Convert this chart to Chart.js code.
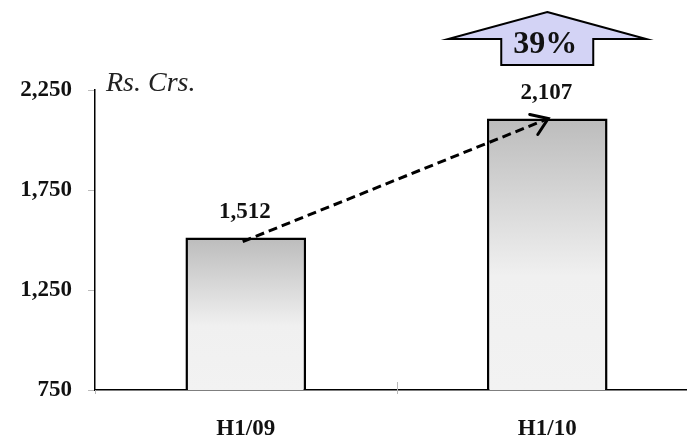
<!DOCTYPE html>
<html>
<head>
<meta charset="utf-8">
<script src="https://cdn.jsdelivr.net/npm/chart.js@4/dist/chart.umd.min.js"></script>
<style>
  html, body { margin: 0; padding: 0; background: #ffffff; overflow: hidden; }
  #wrap { position: relative; width: 698px; height: 441px; }
</style>
</head>
<body>
<div id="wrap"><canvas id="c"></canvas></div>
<script>
// Half-year revenue, Rs. crores
const periods = ['H1/09', 'H1/10'];
const revenue = [1512, 2107];
const yTicks = [750, 1250, 1750, 2250];
const unitLabel = 'Rs. Crs.';

const SERIF = '"Liberation Serif", "Times New Roman", serif';
const fmt = v => v.toLocaleString('en-US');

// vertical grey gradient for each bar, darker at its top
function barFill(ctx) {
  const chart = ctx.chart;
  if (!chart.chartArea) return '#e0e0e0';
  const ys = chart.scales.y;
  const top = ys.getPixelForValue(ctx.raw);
  const bottom = ys.getPixelForValue(ys.min);
  const g = chart.ctx.createLinearGradient(0, top, 0, bottom);
  g.addColorStop(0, '#bcbcbc');
  g.addColorStop(0.58, '#f0f0f0');
  g.addColorStop(1, '#f2f2f2');
  return g;
}

const decorations = {
  id: 'decorations',
  afterDraw(chart) {
    const c = chart.ctx;
    const xs = chart.scales.x, ys = chart.scales.y;
    const area = chart.chartArea;
    c.save();

    // unit caption beside the axis top
    c.font = 'italic 28px ' + SERIF;
    c.fillStyle = '#222';
    c.textAlign = 'left';
    c.textBaseline = 'alphabetic';
    c.fillText(unitLabel, area.left + 11, area.top + 1);

    // category boundary ticks on the x axis
    c.strokeStyle = '#b8b8b8';
    c.lineWidth = 1;
    for (let i = 0; i < periods.length - 1; i++) {
      const bx = Math.round((xs.getPixelForValue(i) + xs.getPixelForValue(i + 1)) / 2) + 0.5;
      c.beginPath();
      c.moveTo(bx, area.bottom - 8);
      c.lineTo(bx, area.bottom + 4);
      c.stroke();
    }
    c.beginPath();
    c.moveTo(area.left + 0.5, area.bottom);
    c.lineTo(area.left + 0.5, area.bottom + 4);
    c.stroke();

    // dashed growth arrow from first bar top to second bar top
    const x0 = xs.getPixelForValue(0) - 3, y0 = ys.getPixelForValue(revenue[0]) + 4;
    const x1 = xs.getPixelForValue(1) + 1, y1 = ys.getPixelForValue(revenue[1]);
    c.strokeStyle = '#000';
    c.lineWidth = 3;
    c.setLineDash([9, 5]);
    c.beginPath();
    c.moveTo(x0, y0);
    c.lineTo(x1, y1);
    c.stroke();
    c.setLineDash([]);
    const ang = Math.atan2(y1 - y0, x1 - x0);
    const head = 19, spread = Math.PI / 5.2;
    c.lineWidth = 3;
    c.lineCap = 'round';
    c.beginPath();
    c.moveTo(x1 - head * Math.cos(ang - spread), y1 - head * Math.sin(ang - spread));
    c.lineTo(x1, y1);
    c.lineTo(x1 - head * Math.cos(ang + spread), y1 - head * Math.sin(ang + spread));
    c.stroke();

    // block arrow with the growth percentage
    const pct = Math.round((revenue[1] - revenue[0]) / revenue[0] * 100);
    const cx = xs.getPixelForValue(1);
    const tipY = 12, wingY = 39, baseY = 65;
    const wingHalf = 99, bodyHalf = 46;
    c.beginPath();
    c.moveTo(cx, tipY);
    c.lineTo(cx + wingHalf, wingY);
    c.lineTo(cx + bodyHalf, wingY);
    c.lineTo(cx + bodyHalf, baseY);
    c.lineTo(cx - bodyHalf, baseY);
    c.lineTo(cx - bodyHalf, wingY);
    c.lineTo(cx - wingHalf, wingY);
    c.closePath();
    c.fillStyle = '#d3d3f5';
    c.fill();
    c.lineWidth = 2;
    c.lineJoin = 'miter';
    c.strokeStyle = '#000';
    c.stroke();
    c.fillStyle = '#111';
    c.font = 'bold 32px ' + SERIF;
    c.textAlign = 'center';
    c.textBaseline = 'middle';
    c.fillText(pct + '%', cx - 2, 45);

    // value labels above the bars
    c.font = 'bold 23px ' + SERIF;
    c.textBaseline = 'middle';
    revenue.forEach((v, i) => {
      c.fillText(fmt(v), xs.getPixelForValue(i) - 1, ys.getPixelForValue(v) - 26);
    });
    c.restore();
  }
};

new Chart(document.getElementById('c'), {
  type: 'bar',
  data: {
    labels: periods,
    datasets: [{
      data: revenue,
      backgroundColor: barFill,
      borderColor: '#000',
      borderWidth: 2.5,
      borderSkipped: false,
      barPercentage: 0.4,
      categoryPercentage: 1
    }]
  },
  options: {
    responsive: true,
    maintainAspectRatio: false,
    animation: false,
    devicePixelRatio: 1,
    layout: { padding: { top: 90, right: 0, bottom: 0, left: 0 } },
    plugins: { legend: { display: false }, tooltip: { enabled: false } },
    scales: {
      x: {
        grid: { display: false },
        border: { display: true, color: '#000', width: 1.5 },
        ticks: {
          color: '#111',
          padding: 17,
          font: { family: SERIF, size: 23, weight: 'bold' }
        },
        afterFit(s) { s.height = 51; }
      },
      y: {
        min: 750,
        max: 2250,
        afterBuildTicks(s) { s.ticks = yTicks.map(v => ({ value: v })); },
        grid: {
          drawOnChartArea: false,
          drawTicks: true,
          tickLength: 7,
          color: '#bbbbbb',
          lineWidth: 1
        },
        border: { display: true, color: '#000', width: 1.5 },
        ticks: {
          color: '#111',
          padding: 16,
          callback: v => fmt(v),
          font: { family: SERIF, size: 23, weight: 'bold' }
        },
        afterFit(s) { s.width = 95; }
      }
    }
  },
  plugins: [decorations]
});
</script>
</body>
</html>
